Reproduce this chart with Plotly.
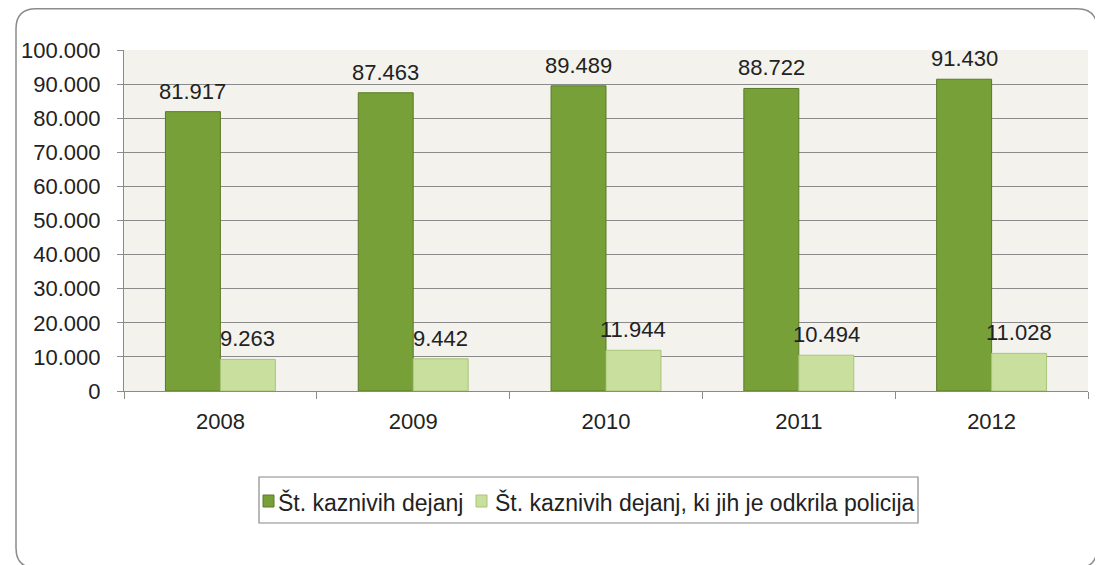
import plotly.graph_objects as go

years = ["2008", "2009", "2010", "2011", "2012"]
all_offences = [81917, 87463, 89489, 88722, 91430]
police_detected = [9263, 9442, 11944, 10494, 11028]
series_names = ["Št. kaznivih dejanj", "Št. kaznivih dejanj, ki jih je odkrila policija"]
series_colors = ["#78a038", "#c8df9e"]
series_edges = ["#5a7a26", "#a9c57a"]

# figure size (page body has an 8px default margin)
W, H = 1095, 557
L, R, T, B = 116, 15, 42, 174
pw, ph = W - L - R, H - T - B


def px(x):
    return (x - L) / pw


def py(y):
    return (H - B - y) / ph


FONT = "Liberation Sans, Arial"
fig = go.Figure()
for name, vals, col, edge in zip(series_names, [all_offences, police_detected],
                                 series_colors, series_edges):
    fig.add_trace(go.Bar(
        x=years, y=vals, name=name, showlegend=False,
        marker=dict(color=col, line=dict(color=edge, width=1)),
    ))

# value labels above bars
cat_w = pw / len(years)
bar_w = cat_w * (1 - 0.43) / 2
for vals, sgn in [(all_offences, -1), (police_detected, 1)]:
    for i, v in enumerate(vals):
        fig.add_annotation(
            x=i, y=v, xref="x", yref="y", text=f"{v:,d}".replace(",", "."),
            showarrow=False, xanchor="center", yanchor="bottom",
            xshift=sgn * bar_w / 2, yshift=6,
            font=dict(size=22, color="#222222", family=FONT),
        )

# rounded chart frame
r = 20
x0, x1 = 8, 1089
y0, y1 = 0.8, 560
path = (f"M {px(x0)},{py(y0 + r)} Q {px(x0)},{py(y0)} {px(x0 + r)},{py(y0)} "
        f"L {px(x1 - r)},{py(y0)} Q {px(x1)},{py(y0)} {px(x1)},{py(y0 + r)} "
        f"L {px(x1)},{py(y1 - r)} Q {px(x1)},{py(y1)} {px(x1 - r)},{py(y1)} "
        f"L {px(x0 + r)},{py(y1)} Q {px(x0)},{py(y1)} {px(x0)},{py(y1 - r)} Z")
shapes = [dict(type="path", xref="paper", yref="paper", path=path,
               line=dict(color="#8c8c8c", width=1.5), layer="below")]

# legend box
shapes.append(dict(type="rect", xref="paper", yref="paper",
                   x0=px(251), x1=px(910), y0=py(469), y1=py(515),
                   line=dict(color="#8a8a8a", width=1.2), fillcolor="white"))
legend_items = [(255, 457, "right"), (468, 485, "left")]
for (sx, tx, anc), name, col, edge in zip(legend_items, series_names,
                                           series_colors, series_edges):
    shapes.append(dict(type="rect", xref="paper", yref="paper",
                       x0=px(sx), x1=px(sx + 11), y0=py(487), y1=py(499),
                       line=dict(color=edge, width=1), fillcolor=col))
    fig.add_annotation(x=px(tx), y=py(494), xref="paper", yref="paper",
                       text=name, showarrow=False, xanchor=anc, yanchor="middle",
                       font=dict(size=23, color="#222222", family=FONT))

fig.update_layout(
    width=W, height=H,
    margin=dict(l=L, r=R, t=T, b=B),
    paper_bgcolor="white",
    plot_bgcolor="#f3f2ed",
    separators=",.",
    barmode="group",
    bargap=0.43,
    bargroupgap=0,
    font=dict(family=FONT, size=22, color="#222222"),
    showlegend=False,
    shapes=shapes,
)
fig.update_yaxes(
    range=[0, 100000], dtick=10000, tickformat=",d",
    showgrid=True, gridcolor="#8a8a8a", gridwidth=1.2,
    showline=True, linecolor="#8a8a8a", linewidth=1.2,
    ticks="outside", ticklen=6, tickcolor="#8a8a8a", ticklabelstandoff=12,
    tickfont=dict(size=22), zeroline=False,
)
fig.update_xaxes(
    type="category", range=[-0.5, len(years) - 0.5],
    showline=True, linecolor="#8a8a8a", linewidth=1.2,
    ticks="outside", ticklen=7, tickcolor="#8a8a8a", tickson="boundaries",
    ticklabelstandoff=10, tickangle=0,
    tickfont=dict(size=22), showgrid=False,
)

fig.write_html("out.html")
